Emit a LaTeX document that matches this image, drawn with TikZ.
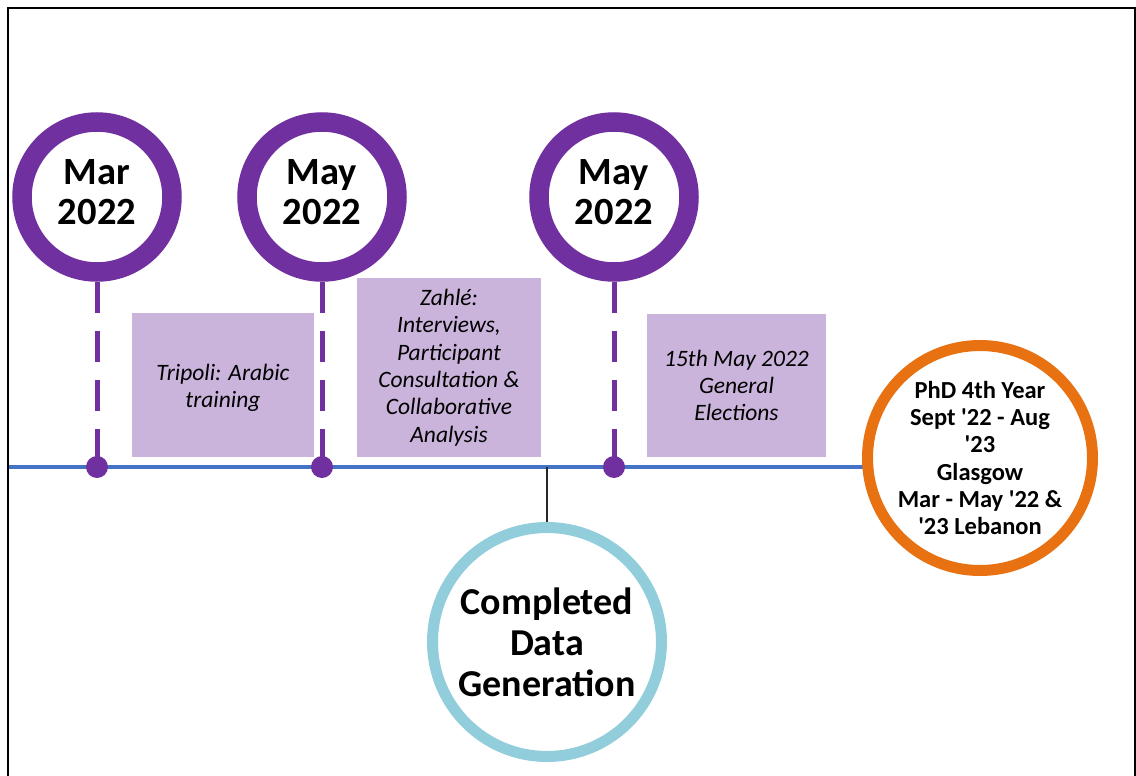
\documentclass[tikz,border=0pt]{standalone}
\usepackage{fontspec}
\setmainfont{Carlito}
\usetikzlibrary{backgrounds}

\definecolor{tlpurple}{RGB}{112,48,160}
\definecolor{tllavender}{RGB}{202,180,219}
\definecolor{tlblue}{RGB}{68,114,196}
\definecolor{tlsky}{RGB}{146,205,220}
\definecolor{tlorange}{RGB}{232,113,18}

\tikzset{
  monthring/.style={circle, draw=tlpurple, line width=19.5pt, fill=white,
    minimum size=150pt, inner sep=0pt},
  monthtext/.style={inner sep=0pt, align=center, yshift=5pt,
    font=\fontsize{38.5}{40}\selectfont\bfseries},
  eventbox/.style={rectangle, fill=tllavender, inner sep=0pt, align=center,
    font=\fontsize{23.5}{27.3}\selectfont\itshape},
  boxtext/.style={inner sep=0pt, align=center,
    font=\fontsize{23.5}{27.3}\selectfont\itshape},
  tickdot/.style={circle, fill=tlpurple, minimum size=22pt, inner sep=0pt},
  tickline/.style={draw=tlpurple, line width=5pt, dash pattern=on 31pt off 18pt},
  timeline/.style={draw=tlblue, line width=3.5pt},
  dataring/.style={circle, draw=tlsky, line width=11pt, fill=white,
    minimum size=229pt, inner sep=0pt, align=center,
    font=\fontsize{38}{41}\selectfont\bfseries},
  yearring/.style={circle, draw=tlorange, line width=11pt, fill=white,
    minimum size=225pt, inner sep=0pt, align=center,
    font=\fontsize{24.5}{27.2}\selectfont\bfseries},
}

\begin{document}
\begin{tikzpicture}[x=1pt, y=-1pt]
  \useasboundingbox (0,0) rectangle (1136,776);
  % outer frame, open at the bottom edge
  \draw[line width=2pt] (7.5,776) -- (7.5,8.5) -- (1134.5,8.5) -- (1134.5,776);

  % timeline end points
  \coordinate (tlstart) at (8.5,467);
  \coordinate (tlend) at (866,467);

  % month markers
  \node[monthring, label={[monthtext]center:{Mar\\2022}}] (m1) at (97,197) {};
  \node[monthring, label={[monthtext]center:{May\\2022}}] (m2) at (322,197) {};
  \node[monthring, label={[monthtext]center:{May\\2022}}] (m3) at (614,197) {};

  % ticks on the timeline
  \node[tickdot] (d1) at (97,467) {};
  \node[tickdot] (d2) at (322,467) {};
  \node[tickdot] (d3) at (614,467) {};

  % event boxes
  \node[eventbox, minimum width=182pt, minimum height=144pt,
    label={[boxtext, yshift=-3pt]center:{Tripoli: Arabic\\training}}] (e1) at (223,385) {};
  \node[eventbox, minimum width=184pt, minimum height=179pt] (e2) at (449,367.5)
    {Zahlé:\\Interviews,\\Participant\\Consultation \&\\Collaborative\\Analysis};
  \node[eventbox, minimum width=179pt, minimum height=143pt] (e3) at (736.5,385.5)
    {15th May 2022\\General\\Elections};

  % milestone circles
  \node[dataring] (cdg) at (547,642) {Completed\\Data\\Generation};
  \node[yearring] (phd) at (980,458)
    {PhD 4th Year\\Sept \textquotesingle22 - Aug\\\textquotesingle23\\Glasgow\\Mar - May \textquotesingle22 \&\\\textquotesingle23 Lebanon};

  \begin{scope}[on background layer]
    \draw[timeline] (tlstart) -- (tlend);
    \draw[tickline] (m1.south) -- (d1.center);
    \draw[tickline] (m2.south) -- (d2.center);
    \draw[tickline] (m3.south) -- (d3.center);
    \draw[line width=1.2pt, black!85] (cdg.north) -- (cdg.north |- tlstart);
  \end{scope}
\end{tikzpicture}
\end{document}
